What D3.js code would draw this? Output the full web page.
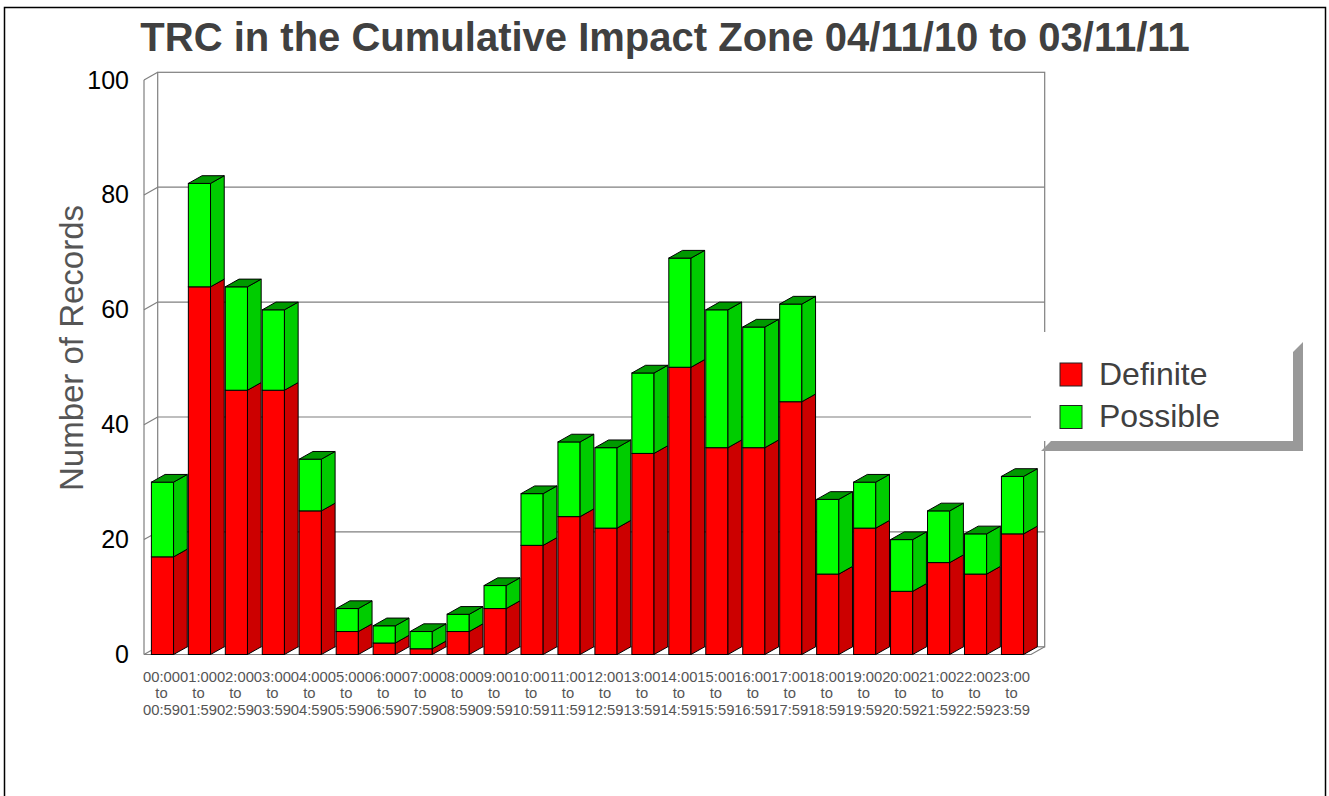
<!DOCTYPE html>
<html>
<head>
<meta charset="utf-8">
<script src="https://cdn.jsdelivr.net/npm/d3@7"></script>
<style>
  html, body { margin: 0; padding: 0; background: #fff; }
  svg { display: block; font-family: "Liberation Sans", Arial, sans-serif; }
</style>
</head>
<body>
<svg id="chart" width="1329" height="796"></svg>
<script>
// hour-of-day buckets
const categories = [
    "00:00 to 00:59", "01:00 to 01:59", "02:00 to 02:59", "03:00 to 03:59",
    "04:00 to 04:59", "05:00 to 05:59", "06:00 to 06:59", "07:00 to 07:59",
    "08:00 to 08:59", "09:00 to 09:59", "10:00 to 10:59", "11:00 to 11:59",
    "12:00 to 12:59", "13:00 to 13:59", "14:00 to 14:59", "15:00 to 15:59",
    "16:00 to 16:59", "17:00 to 17:59", "18:00 to 18:59", "19:00 to 19:59",
    "20:00 to 20:59", "21:00 to 21:59", "22:00 to 22:59", "23:00 to 23:59"
];
const definite = [17, 64, 46, 46, 25, 4, 2, 1, 4, 8, 19, 24, 22, 35, 50, 36, 36, 44, 14, 22, 11, 16, 14, 21];
const possible = [13, 18, 18, 14, 9, 4, 3, 3, 3, 4, 9, 13, 14, 14, 19, 24, 21, 17, 13, 8, 9, 9, 7, 10];
const yTicks = [0, 20, 40, 60, 80, 100];
const seriesNames = ["Definite", "Possible"];

const colors = {
    Definite: { front: "#ff0000", side: "#cc0000", top: "#990000" },
    Possible: { front: "#00ff00", side: "#00cc00", top: "#009900" }
};

const svg = d3.select("#chart");
const DX = 13.7, DY = -7.7;   // depth of the 3d box
const gridColor = "#7f7f7f";

// frame
svg.append("rect")
    .attr("x", 4.5).attr("y", 7.5)
    .attr("width", 1321).attr("height", 810)
    .attr("fill", "#fff").attr("stroke", "#000").attr("stroke-width", 1.5);

svg.append("text")
    .attr("x", 665).attr("y", 51)
    .attr("text-anchor", "middle")
    .attr("font-size", 40).attr("font-weight", "bold")
    .attr("fill", "#404040")
    .text("TRC in the Cumulative Impact Zone 04/11/10 to 03/11/11");

const x = d3.scaleBand()
    .domain(categories)
    .range([144, 1031])
    .paddingInner(0.4)
    .paddingOuter(0.2);

const y = d3.scaleLinear()
    .domain([0, 100])
    .range([654.5, 80]);

const x0 = x.range()[0], x1 = x.range()[1];
const chart = svg.append("g");

// back wall + grid
chart.append("rect")
    .attr("x", x0 + DX).attr("y", y(100) + DY)
    .attr("width", x1 - x0).attr("height", y(0) - y(100))
    .attr("fill", "#fff").attr("stroke", gridColor).attr("stroke-width", 1.2);

chart.selectAll(".grid")
    .data(yTicks.filter(d => d > 0 && d < 100))
    .join("line")
    .attr("class", "grid")
    .attr("x1", x0 + DX).attr("x2", x1 + DX)
    .attr("y1", d => y(d) + DY).attr("y2", d => y(d) + DY)
    .attr("stroke", gridColor).attr("stroke-width", 1.2);

// left side wall ticks
chart.selectAll(".tick3d")
    .data(yTicks)
    .join("line")
    .attr("class", "tick3d")
    .attr("x1", x0).attr("x2", x0 + DX)
    .attr("y1", d => y(d)).attr("y2", d => y(d) + DY)
    .attr("stroke", gridColor).attr("stroke-width", 1.2);

chart.append("line")
    .attr("x1", x0).attr("x2", x0)
    .attr("y1", y(0)).attr("y2", y(100))
    .attr("stroke", gridColor).attr("stroke-width", 1.2);

// floor
chart.append("path")
    .attr("d", `M${x0},${y(0)}L${x1},${y(0)}L${x1 + DX},${y(0) + DY}`)
    .attr("fill", "none").attr("stroke", gridColor).attr("stroke-width", 1.2);

// stacked bars
const rows = categories.map((c, i) => ({ cat: c, Definite: definite[i], Possible: possible[i] }));
const stacked = d3.stack().keys(seriesNames)(rows);

const bw = x.bandwidth();
const bars = chart.append("g");

rows.forEach((row, i) => {
    const xl = x(row.cat), xr = xl + bw;
    const segs = stacked.map(s => ({ key: s.key, a: s[i][0], b: s[i][1] })).filter(s => s.b > s.a);
    const g = bars.append("g");
    segs.forEach((s, j) => {
        const c = colors[s.key];
        g.append("rect")
            .attr("x", xl).attr("y", y(s.b))
            .attr("width", bw).attr("height", y(s.a) - y(s.b))
            .attr("fill", c.front).attr("stroke", "#000").attr("stroke-width", 1);
        g.append("path")
            .attr("d", `M${xr},${y(s.a)}L${xr + DX},${y(s.a) + DY}L${xr + DX},${y(s.b) + DY}L${xr},${y(s.b)}Z`)
            .attr("fill", c.side).attr("stroke", "#000").attr("stroke-width", 1);
        if (j === segs.length - 1) {
            g.append("path")
                .attr("d", `M${xl},${y(s.b)}L${xl + DX},${y(s.b) + DY}L${xr + DX},${y(s.b) + DY}L${xr},${y(s.b)}Z`)
                .attr("fill", c.top).attr("stroke", "#000").attr("stroke-width", 1);
        }
    });
});

// y axis labels
const yAxis = d3.axisLeft(y).tickValues(yTicks).tickSize(0).tickPadding(15);
const yg = svg.append("g")
    .attr("transform", `translate(${x0},0)`)
    .call(yAxis);
yg.select(".domain").remove();
yg.selectAll("text")
    .attr("font-size", 25)
    .attr("font-family", "Liberation Sans, Arial, sans-serif")
    .attr("fill", "#000");

// x axis labels, three lines each
const xAxis = d3.axisBottom(x).tickSize(0).tickPadding(0);
const xg = svg.append("g")
    .attr("transform", `translate(0,${y(0)})`)
    .call(xAxis);
xg.select(".domain").remove();
xg.selectAll("text")
    .attr("font-size", 14.8)
    .attr("font-family", "Liberation Sans, Arial, sans-serif")
    .attr("fill", "#555")
    .attr("dy", null)
    .attr("y", 0)
    .text(null)
    .each(function (d) {
        const parts = d.split(" ");
        const t = d3.select(this);
        parts.forEach((p, k) => {
            t.append("tspan").attr("x", -1).attr("y", 27 + k * 16.5).text(p);
        });
    });

svg.append("text")
    .attr("transform", "translate(83,348) rotate(-90)")
    .attr("text-anchor", "middle")
    .attr("font-size", 33)
    .attr("fill", "#555")
    .text("Number of Records");

// legend with drop shadow
const legend = svg.append("g").attr("transform", "translate(1031,332)");
const lw = 262, lh = 109, sh = 10;
legend.append("path")
    .attr("d", `M${lw},${sh * 2}L${lw + sh},${sh}L${lw + sh},${lh + sh}L${sh},${lh + sh}L${sh * 2},${lh}L${lw},${lh}Z`)
    .attr("fill", "#999");
legend.append("rect")
    .attr("width", lw).attr("height", lh)
    .attr("fill", "#fff");

const li = legend.selectAll(".li")
    .data(seriesNames)
    .join("g")
    .attr("class", "li")
    .attr("transform", (d, i) => `translate(29,${31 + i * 42.5})`);
li.append("rect")
    .attr("width", 22).attr("height", 23)
    .attr("fill", d => colors[d].front)
    .attr("stroke", "#222").attr("stroke-width", 1);
li.append("text")
    .attr("x", 39).attr("y", 21.5)
    .attr("font-size", 32)
    .attr("fill", "#404040")
    .text(d => d);
</script>
</body>
</html>
